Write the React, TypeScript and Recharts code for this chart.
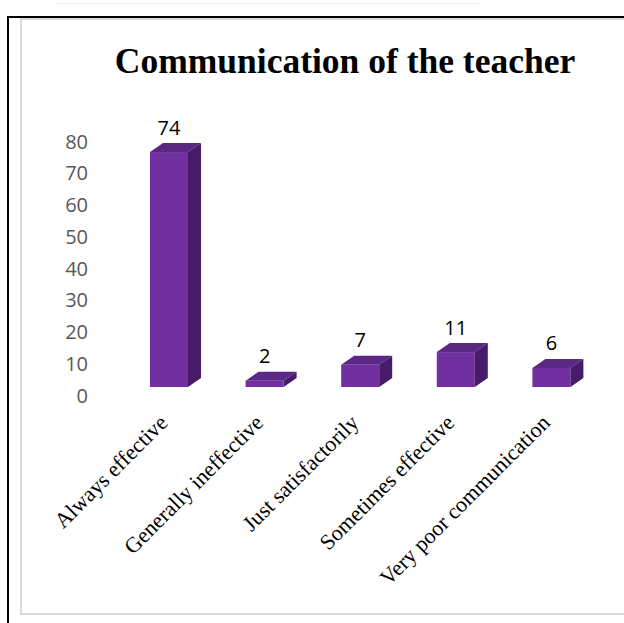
import React from 'react';
import { BarChart, Bar, XAxis, YAxis, LabelList } from 'recharts';

const categories = [
  'Always effective',
  'Generally ineffective',
  'Just satisfactorily',
  'Sometimes effective',
  'Very poor communication',
];
const responses = [74, 2, 7, 11, 6];
const yTicks = [0, 10, 20, 30, 40, 50, 60, 70, 80];

const data = categories.map((name, i) => ({ name, value: responses[i] }));

const FRONT = '#7030a0';
const TOP = '#5b2884';
const SIDE = '#461c68';
const DX = 13;
const DY = 9;

// front face plus the top and right faces, like Excel's 3D column
const Column3D = (props: any) => {
  const { x, y, width, height } = props;
  return (
    <g>
      <rect x={x} y={y} width={width} height={height} fill={FRONT} />
      <polygon
        points={`${x},${y} ${x + DX},${y - DY} ${x + width + DX},${y - DY} ${x + width},${y}`}
        fill={TOP}
      />
      <polygon
        points={`${x + width},${y} ${x + width + DX},${y - DY} ${x + width + DX},${y + height - DY} ${x + width},${y + height}`}
        fill={SIDE}
      />
    </g>
  );
};

const ValueLabel = (props: any) => {
  const { x, y, width, value } = props;
  return (
    <text
      x={x + width / 2}
      y={y - 25}
      textAnchor="middle"
      dominantBaseline="central"
      fontFamily="'Open Sans', sans-serif"
      fontSize={20}
      fill="#000"
    >
      {value}
    </text>
  );
};

const YTick = (props: any) => {
  const { x, y, payload } = props;
  return (
    <text
      x={x}
      y={y + 8}
      textAnchor="end"
      dominantBaseline="central"
      fontFamily="'Open Sans', sans-serif"
      fontSize={20}
      fill="#595959"
    >
      {payload.value}
    </text>
  );
};

const XTick = (props: any) => {
  const { x, y, payload } = props;
  return (
    <g transform={`translate(${x},${y})`}>
      <text
        transform="rotate(-45)"
        textAnchor="end"
        fontFamily="'Liberation Serif', 'Times New Roman', serif"
        fontSize={22}
        fill="#000"
      >
        {payload.value}
      </text>
    </g>
  );
};

export default function App() {
  return (
    <div style={{ position: 'absolute', left: 0, top: 0, width: 624, height: 623, background: '#fff', overflow: 'hidden' }}>
      {/* bits of the scanned page around the chart */}
      <div style={{ position: 'absolute', left: 55, top: 0, width: 425, height: 3, borderBottom: '1px solid #ececec' }} />
      <div style={{ position: 'absolute', left: 7, top: 16, width: 617, height: 2, background: '#000' }} />
      <div style={{ position: 'absolute', left: 7, top: 16, width: 2, height: 607, background: '#000' }} />
      <div
        style={{
          position: 'absolute',
          left: 20,
          top: 18,
          width: 620,
          height: 597,
          border: '2px solid #d9d9d9',
          boxSizing: 'border-box',
        }}
      />
      <div
        style={{
          position: 'absolute',
          left: 0,
          top: 44,
          width: 690,
          textAlign: 'center',
          fontFamily: "'Liberation Serif', 'Times New Roman', serif",
          fontWeight: 'bold',
          fontSize: 35.5,
          lineHeight: '35px',
          color: '#000',
        }}
      >
        Communication of the teacher
      </div>
      <div style={{ position: 'absolute', left: 0, top: 0 }}>
        <BarChart
          width={624}
          height={623}
          data={data}
          margin={{ top: 133, right: 25, bottom: 36, left: 0 }}
        >
          <XAxis
            dataKey="name"
            interval={0}
            height={200}
            axisLine={false}
            tickLine={false}
            tickSize={0}
            tickMargin={37}
            tick={<XTick />}
          />
          <YAxis
            width={121}
            domain={[0, 80]}
            ticks={yTicks}
            axisLine={false}
            tickLine={false}
            tickSize={0}
            tickMargin={33}
            tick={<YTick />}
          />
          <Bar dataKey="value" barSize={38} shape={<Column3D />} isAnimationActive={false}>
            <LabelList dataKey="value" content={<ValueLabel />} />
          </Bar>
        </BarChart>
      </div>
    </div>
  );
}
